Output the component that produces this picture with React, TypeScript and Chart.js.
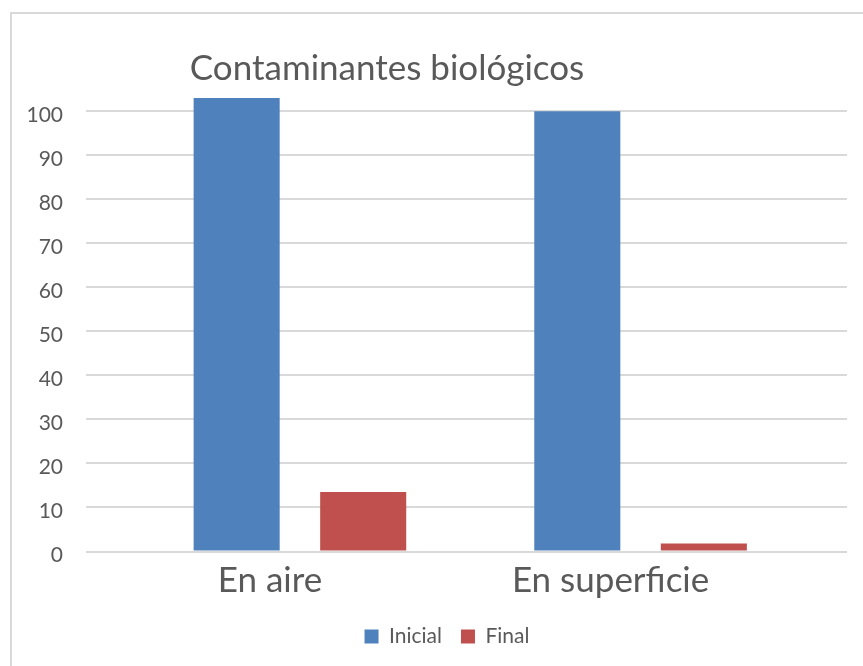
import React, { useEffect, useRef } from "react";
import { Chart, registerables } from "chart.js";

Chart.register(...registerables);

const title = "Contaminantes biológicos";
const categories = ["En aire", "En superficie"];
const seriesNames = ["Inicial", "Final"];
const inicialValues = [103, 100];
const finalValues = [13.5, 1.8];
const yTicks = [0, 10, 20, 30, 40, 50, 60, 70, 80, 90, 100];
const colors = ["#4F81BD", "#C0504D"];

const textColor = "#595959";
const gridColor = "#D9D9D9";
const fontFamily = "Lato, 'Open Sans', sans-serif";

const framePlugin = {
  id: "frame",
  afterLayout(chart: any) {
    if (chart.legend) {
      chart.legend.left += 23.5;
      chart.legend.right += 23.5;
    }
  },
  beforeDraw(chart: any) {
    const ctx = chart.ctx;
    ctx.save();
    ctx.fillStyle = "#ffffff";
    ctx.fillRect(0, 0, chart.width, chart.height);
    ctx.strokeStyle = gridColor;
    ctx.lineWidth = 2;
    ctx.strokeRect(11, 13, chart.width + 20, chart.height + 20);
    ctx.restore();
  },
  afterDraw(chart: any) {
    const ctx = chart.ctx;
    ctx.save();
    ctx.fillStyle = textColor;
    ctx.font = `35px ${fontFamily}`;
    ctx.textAlign = "center";
    ctx.textBaseline = "alphabetic";
    ctx.fillText(title, 387, 80);
    ctx.restore();
  },
};

export default function App() {
  const ref = useRef<HTMLCanvasElement | null>(null);

  useEffect(() => {
    if (!ref.current) return;
    const chart = new Chart(ref.current, {
      type: "bar",
      data: {
        datasets: [
          {
            label: seriesNames[0],
            data: inicialValues.map((v, i) => ({ x: i, y: v })),
            backgroundColor: colors[0],
            borderWidth: 0,
          },
          {
            label: seriesNames[1],
            data: finalValues.map((v, i) => ({ x: i, y: v })),
            backgroundColor: colors[1],
            borderWidth: 0,
          },
        ],
      },
      options: {
        responsive: false,
        animation: false,
        datasets: {
          bar: { categoryPercentage: 0.743, barPercentage: 0.68 },
        },
        layout: { padding: { top: 98, left: 0, right: 16, bottom: 9 } },
        plugins: {
          title: { display: false },
          tooltip: { enabled: false },
          legend: {
            position: "bottom",
            labels: {
              boxWidth: 14,
              boxHeight: 14,
              padding: 19,
              color: textColor,
              font: { family: fontFamily, size: 21 },
            },
          },
        },
        scales: {
          x: {
            type: "linear",
            offset: false,
            min: -0.628,
            max: 1.606,
            afterBuildTicks: (scale: any) => {
              scale.ticks = categories.map((_, i) => ({ value: i }));
            },
            afterFit: (scale: any) => {
              scale.height = 55.5;
            },
            grid: { display: false },
            border: { display: false },
            ticks: {
              autoSkip: false,
              maxRotation: 0,
              padding: 0,
              labelOffset: -30,
              color: textColor,
              font: { family: fontFamily, size: 35 },
              callback: (v: any) => categories[v as number] ?? "",
            },
          },
          y: {
            min: 0,
            max: 103,
            afterBuildTicks: (scale: any) => {
              scale.ticks = yTicks.map((v) => ({ value: v }));
            },
            afterFit: (scale: any) => {
              scale.width = 86;
            },
            grid: { color: gridColor, lineWidth: 2, drawTicks: false },
            border: { display: false },
            ticks: {
              padding: 23,
              labelOffset: 4,
              color: textColor,
              font: { family: fontFamily, size: 21 },
            },
          },
        },
      },
      plugins: [framePlugin],
    });
    return () => chart.destroy();
  }, []);

  return (
    <div style={{ position: "absolute", left: 0, top: 0, width: 863, height: 666 }}>
      <canvas ref={ref} width={863} height={666} />
    </div>
  );
}
